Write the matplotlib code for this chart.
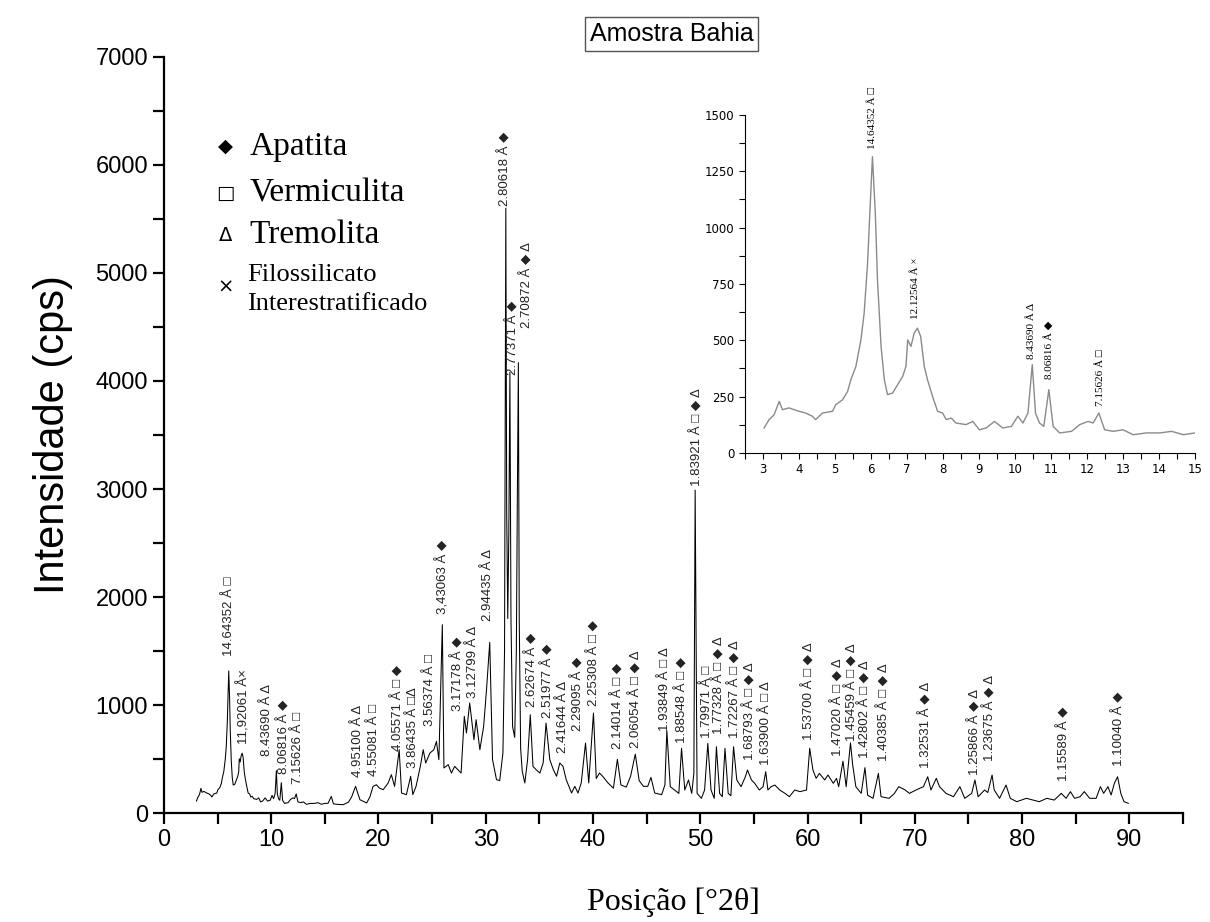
import matplotlib
matplotlib.use("Agg")
import matplotlib.pyplot as plt
from matplotlib.ticker import MultipleLocator

# difratograma (2theta, cps)
two_theta = [3.03, 3.17, 3.31, 3.45, 3.54, 3.72, 4.0, 4.19, 4.37, 4.46, 4.65, 4.93, 5.02, 5.21, 5.35, 5.44,
             5.58, 5.72, 5.81, 5.9, 6.0, 6.04, 6.12, 6.18, 6.28, 6.37, 6.46, 6.6, 6.74, 6.88, 6.97, 7.02,
             7.11, 7.2, 7.29, 7.38, 7.48, 7.57, 7.71, 7.85, 7.99, 8.09, 8.23, 8.36, 8.64, 8.83, 9.01, 9.2,
             9.43, 9.66, 9.9, 10.08, 10.22, 10.36, 10.48, 10.57, 10.68, 10.8, 10.94, 11.06, 11.24, 11.57,
             11.8, 12.03, 12.17, 12.33, 12.49, 12.73, 13.0, 13.28, 13.65, 14.03, 14.35, 14.68, 15.0, 15.3,
             15.6, 15.8, 16.2, 16.7, 17.2, 17.5, 17.86, 18.27, 18.9, 19.2, 19.5, 19.8, 20.1, 20.44, 20.9,
             21.2, 21.5, 21.93, 22.15, 22.6, 23.0, 23.2, 23.5, 23.9, 24.17, 24.4, 24.79, 25.16, 25.4, 25.63,
             25.95, 26.1, 26.5, 26.8, 27.1, 27.4, 27.7, 28.0, 28.2, 28.5, 28.9, 29.1, 29.45, 29.8, 30.07,
             30.37, 30.63, 31.0, 31.3, 31.6, 31.75, 31.87, 31.95, 32.05, 32.15, 32.25, 32.35, 32.5, 32.7,
             32.85, 32.95, 33.04, 33.12, 33.25, 33.4, 33.64, 33.9, 34.15, 34.4, 34.7, 35.04, 35.35, 35.62,
             35.97, 36.3, 36.6, 36.9, 37.2, 37.5, 38.0, 38.3, 38.6, 38.9, 39.3, 39.6, 40.04, 40.3, 40.6,
             40.9, 41.4, 41.9, 42.27, 42.6, 43.1, 43.5, 43.94, 44.3, 44.7, 45.1, 45.4, 45.75, 46.4, 46.7,
             46.88, 47.2, 47.6, 48.0, 48.25, 48.55, 48.9, 49.2, 49.4, 49.52, 49.7, 50.1, 50.4, 50.7, 51.0,
             51.3, 51.5, 51.8, 52.05, 52.3, 52.6, 52.85, 53.1, 53.4, 53.8, 54.2, 54.4, 54.77, 55.07, 55.5,
             55.85, 56.1, 56.3, 56.6, 56.95, 57.4, 57.9, 58.3, 58.8, 59.3, 59.9, 60.2, 60.5, 60.8, 61.1,
             61.6, 61.9, 62.4, 62.7, 62.9, 63.3, 63.6, 64.0, 64.2, 64.5, 65.0, 65.35, 65.6, 66.1, 66.6,
             66.85, 67.6, 68.1, 68.5, 69.1, 69.5, 70.1, 70.8, 71.2, 71.5, 72.0, 72.3, 72.9, 73.6, 74.2,
             74.65, 75.3, 75.6, 75.9, 76.5, 76.8, 77.2, 77.4, 77.9, 78.5, 78.9, 79.5, 80.4, 81.0, 81.6,
             82.3, 83.0, 83.65, 84.1, 84.5, 84.9, 85.4, 85.8, 86.3, 86.9, 87.3, 87.6, 88.0, 88.3, 88.6,
             88.9, 89.2, 89.5, 89.9]
intensity = [111, 148, 170, 229, 192, 200, 185, 177, 163, 148, 177, 185, 214, 236, 273, 325,
             384, 502, 621, 828, 1182, 1315, 1064, 768, 473, 325, 259, 266, 303, 340, 384, 502,
             473, 532, 554, 517, 384, 325, 251, 185, 177, 148, 155, 133, 126, 140, 103, 111,
             140, 111, 118, 163, 133, 177, 392, 177, 133, 118, 281, 118, 89, 96,
             126, 140, 133, 177, 103, 96, 103, 81, 89, 89, 96, 81, 89, 90,
             154, 85, 80, 77, 100, 150, 247, 123, 93, 150, 247, 262, 230, 216, 278,
             355, 247, 586, 185, 170, 340, 170, 247, 432, 586, 463, 555, 586, 663, 494,
             1744, 417, 448, 370, 432, 401, 370, 895, 741, 1019, 679, 864, 586, 800, 1142,
             1580, 494, 309, 300, 556, 1500, 5600, 2800, 1800, 2600, 4080, 1800, 800, 700,
             1500, 3000, 4170, 1800, 600, 386, 278, 494, 910, 432, 401, 370, 463, 833,
             494, 401, 340, 463, 432, 309, 185, 247, 185, 278, 648, 278, 926, 320, 370,
             340, 278, 230, 497, 260, 240, 340, 545, 300, 247, 247, 330, 185, 170, 260,
             762, 244, 213, 182, 599, 213, 306, 182, 367, 2990, 182, 136, 213, 645, 213,
             136, 614, 182, 151, 599, 182, 160, 614, 306, 244, 336, 398, 306, 275, 213,
             244, 383, 213, 244, 259, 213, 182, 151, 213, 198, 213, 599, 398, 321, 367,
             306, 352, 275, 321, 244, 480, 244, 650, 450, 244, 182, 420, 165, 136, 367,
             151, 136, 182, 244, 213, 182, 213, 244, 336, 213, 321, 244, 182, 151, 244,
             136, 182, 306, 151, 213, 190, 352, 213, 136, 259, 136, 105, 136, 120, 105,
             136, 120, 182, 136, 198, 136, 151, 198, 136, 136, 244, 182, 244, 167, 275,
             336, 182, 105, 90]

# rotulos dos picos: texto, posicao 2theta do rotulo, base do rotulo (cps)
peak_labels = ["14.64352 Å □", "11,92061 Å×", "8.43690 Å Δ", "8.06816 Å ◆", "7.15626 Å □",
               "4.95100 Å Δ", "4.55081 Å □", "4.05571 Å □ ◆", "3.86435 Å □Δ", "3.56374 Å □",
               "3,43063 Å ◆", "3.17178 Å ◆", "3.12799 Å Δ", "2.94435 Å Δ", "2.80618 Å ◆",
               "2.77371 Å ◆", "2.70872 Å ◆ Δ", "2.62674 Å ◆", "2.51977 Å ◆", "2.41644 Å Δ",
               "2.29095 Å ◆", "2.25308 Å □ ◆", "2.14014 Å □ ◆", "2.06054 Å □ ◆ Δ", "1.93849 Å □ Δ",
               "1.88548 Å □ ◆", "1.83921 Å □ ◆ Δ", "1.79971 Å □", "1.77328 Å □ ◆ Δ", "1.72267 Å □ ◆ Δ",
               "1.68793 Å □ ◆ Δ", "1.63900 Å □ Δ", "1.53700 Å □ ◆ Δ", "1.47020 Å □ ◆ Δ", "1.45459 Å □ ◆ Δ",
               "1.42802 Å □ ◆ Δ", "1.40385 Å □ ◆ Δ", "1.32531 Å ◆ Δ", "1.25866 Å ◆ Δ", "1.23675 Å ◆ Δ",
               "1.15589 Å ◆", "1.10040 Å ◆"]
label_2theta = [6.06, 7.4, 9.57, 11.12, 12.5, 18.1, 19.6, 21.8, 23.2, 24.79,
                26.0, 27.4, 28.8, 30.2, 31.78, 32.5, 33.8, 34.27, 35.76, 37.2,
                38.55, 40.1, 42.34, 44.0, 46.7, 48.24, 49.65, 50.63, 51.75, 53.2,
                54.6, 56.16, 60.14, 62.84, 64.1, 65.33, 67.05, 71.0, 75.58, 77.0,
                83.9, 89.0]
label_base = [1435, 617, 509, 340, 247, 309, 324, 556, 401, 787,
              1821, 926, 1049, 1759, 5600, 4037, 4472, 957, 864, 540,
              741, 972, 571, 586, 741, 630, 3009, 676, 707, 676,
              475, 429, 660, 506, 645, 491, 460, 398, 336, 460,
              275, 414]

# rotulos do detalhe (3-15 graus)
inset_labels = ["14.64352 Å □", "12.12564 Å ×", "8.43690 Å Δ", "8.06816 Å ◆", "7.15626 Å □"]
inset_2theta = [6.03, 7.25, 10.45, 10.96, 12.37]
inset_base = [1337, 584, 406, 318, 200]

phases = ["Apatita", "Vermiculita", "Tremolita", "Filossilicato\nInterestratificado"]
phase_symbols = ["◆", "□", "Δ", "×"]

sym_font = ["Liberation Sans", "DejaVu Sans"]
serif_font = ["Liberation Serif", "DejaVu Serif"]

fig = plt.figure(figsize=(12.1, 9.22), dpi=100)
ax = fig.add_axes([0.1355, 0.1182, 0.8422, 0.82])
ax.plot(two_theta, intensity, color="black", lw=0.75)
ax.set_xlim(0, 95)
ax.set_ylim(0, 7000)
for s in ["top", "right"]:
    ax.spines[s].set_visible(False)
for s in ["left", "bottom"]:
    ax.spines[s].set_linewidth(1.6)
ax.xaxis.set_major_locator(MultipleLocator(10))
ax.xaxis.set_minor_locator(MultipleLocator(5))
ax.yaxis.set_major_locator(MultipleLocator(1000))
ax.yaxis.set_minor_locator(MultipleLocator(500))
ax.tick_params(which="both", direction="out", length=8, width=1.6)
ax.tick_params(labelsize=17)
for t in ax.get_xticklabels() + ax.get_yticklabels():
    t.set_fontfamily("Liberation Sans")
ax.set_xticks([0, 10, 20, 30, 40, 50, 60, 70, 80, 90])
ax.set_ylabel("Intensidade (cps)", fontsize=30, family="Liberation Sans", labelpad=16)
ax.set_xlabel("Posição [°2θ]", fontsize=23, family=serif_font, labelpad=26)

for txt, x, y in zip(peak_labels, label_2theta, label_base):
    ax.text(x, y + 20, txt, rotation=90, ha="center", va="bottom", fontsize=9.5,
            family=sym_font, color="#222222")

# legenda das fases
leg_y = [0.841, 0.790, 0.745]
for sym, name, y in zip(phase_symbols[:3], phases[:3], leg_y):
    fig.text(0.186, y, sym, fontsize=14, family="DejaVu Sans", ha="center", va="center")
    fig.text(0.206, y, name, fontsize=24, family=serif_font, va="center")
fig.text(0.186, 0.689, phase_symbols[3], fontsize=14, family="DejaVu Sans", ha="center", va="center")
fig.text(0.204, 0.686, phases[3], fontsize=19, family=serif_font, va="center", linespacing=1.4)

fig.text(0.555, 0.963, "Amostra Bahia", fontsize=18, family="Liberation Sans", ha="center", va="center",
         bbox=dict(boxstyle="square,pad=0.2", fc="white", ec="#555555", lw=1))

# detalhe 3-15
axi = fig.add_axes([0.6157, 0.5087, 0.3719, 0.3666])
axi.plot(two_theta, intensity, color="#8a8a8a", lw=1.0)
axi.set_xlim(2.5, 15)
axi.set_ylim(0, 1500)
for s in ["top", "right"]:
    axi.spines[s].set_visible(False)
axi.xaxis.set_major_locator(MultipleLocator(1))
axi.xaxis.set_minor_locator(MultipleLocator(0.5))
axi.yaxis.set_major_locator(MultipleLocator(250))
axi.yaxis.set_minor_locator(MultipleLocator(125))
axi.set_xticks(range(3, 16))
axi.tick_params(which="both", direction="out", length=4, width=0.8, labelsize=8.5)
axi.patch.set_alpha(0)
for txt, x, y in zip(inset_labels, inset_2theta, inset_base):
    axi.text(x, y + 10, txt, rotation=90, ha="center", va="bottom", fontsize=8,
             family=serif_font, clip_on=False)

fig.savefig("out.png", dpi=100)
